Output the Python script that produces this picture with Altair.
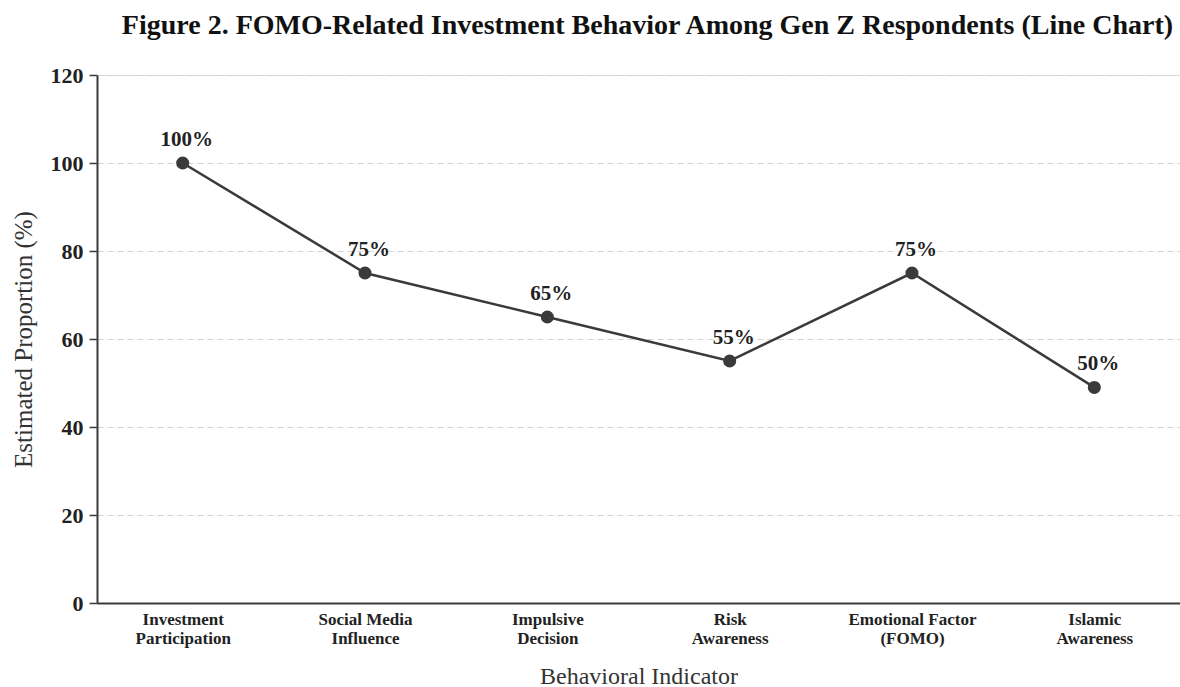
import altair as alt
import pandas as pd

categories = ["Investment|Participation", "Social Media|Influence", "Impulsive|Decision",
              "Risk|Awareness", "Emotional Factor|(FOMO)", "Islamic|Awareness"]
values = [100, 75, 65, 55, 75, 49]
point_labels = ["100%", "75%", "65%", "55%", "75%", "50%"]
y_ticks = [0, 20, 40, 60, 80, 100, 120]

df = pd.DataFrame({"cat": categories, "val": values, "lab": point_labels})

FONT = "Liberation Serif"
DARK = "#3a3a3a"

x = alt.X("cat:N", sort=categories, title="Behavioral Indicator",
          scale=alt.Scale(type="point", padding=0.47),
          axis=alt.Axis(labelExpr="split(datum.label, '|')", labelAngle=0,
                        labelFont=FONT, labelFontSize=17, labelFontWeight="bold",
                        labelColor="#222", labelPadding=8, labelLineHeight=19,
                        ticks=False, domainColor=DARK, domainWidth=2,
                        titleFont=FONT, titleFontSize=24, titleFontWeight="normal",
                        titleColor="#333", titlePadding=18, grid=False))
y = alt.Y("val:Q", title="Estimated Proportion (%)",
          scale=alt.Scale(domain=[0, 120], nice=False),
          axis=alt.Axis(values=y_ticks, labelFont=FONT, labelFontSize=22,
                        labelFontWeight="bold", labelColor="#222", labelPadding=6,
                        tickSize=8, tickColor=DARK, tickWidth=1.5,
                        domainColor=DARK, domainWidth=2,
                        gridDash=[6, 4], gridColor="#d4d4d4", gridWidth=1,
                        titleFont=FONT, titleFontSize=25, titleFontWeight="normal",
                        titleColor="#333", titlePadding=14))

base = alt.Chart(df)
line = base.mark_line(color=DARK, strokeWidth=2.5).encode(x=x, y=y)
pts = base.mark_point(filled=True, size=170, color=DARK, opacity=1).encode(x=x, y=y)
txt = base.mark_text(dy=-23, dx=4, font=FONT, fontSize=21, fontWeight="bold", color="#222").encode(
    x=x, y=y, text="lab:N")

chart = (line + pts + txt).properties(
    width=1083, height=528,
    title=alt.TitleParams("Figure 2. FOMO-Related Investment Behavior Among Gen Z Respondents (Line Chart)",
                          font=FONT, fontSize=28, fontWeight="bold", color="#111",
                          anchor="middle", offset=24, dx=9),
    autosize=alt.AutoSizeParams(type="none"),
    padding={"left": 97, "top": 75, "right": 0, "bottom": 84},
).configure_view(stroke=None).configure(background="white")

chart.save("out.html", embed_options={"renderer": "svg", "actions": False})
